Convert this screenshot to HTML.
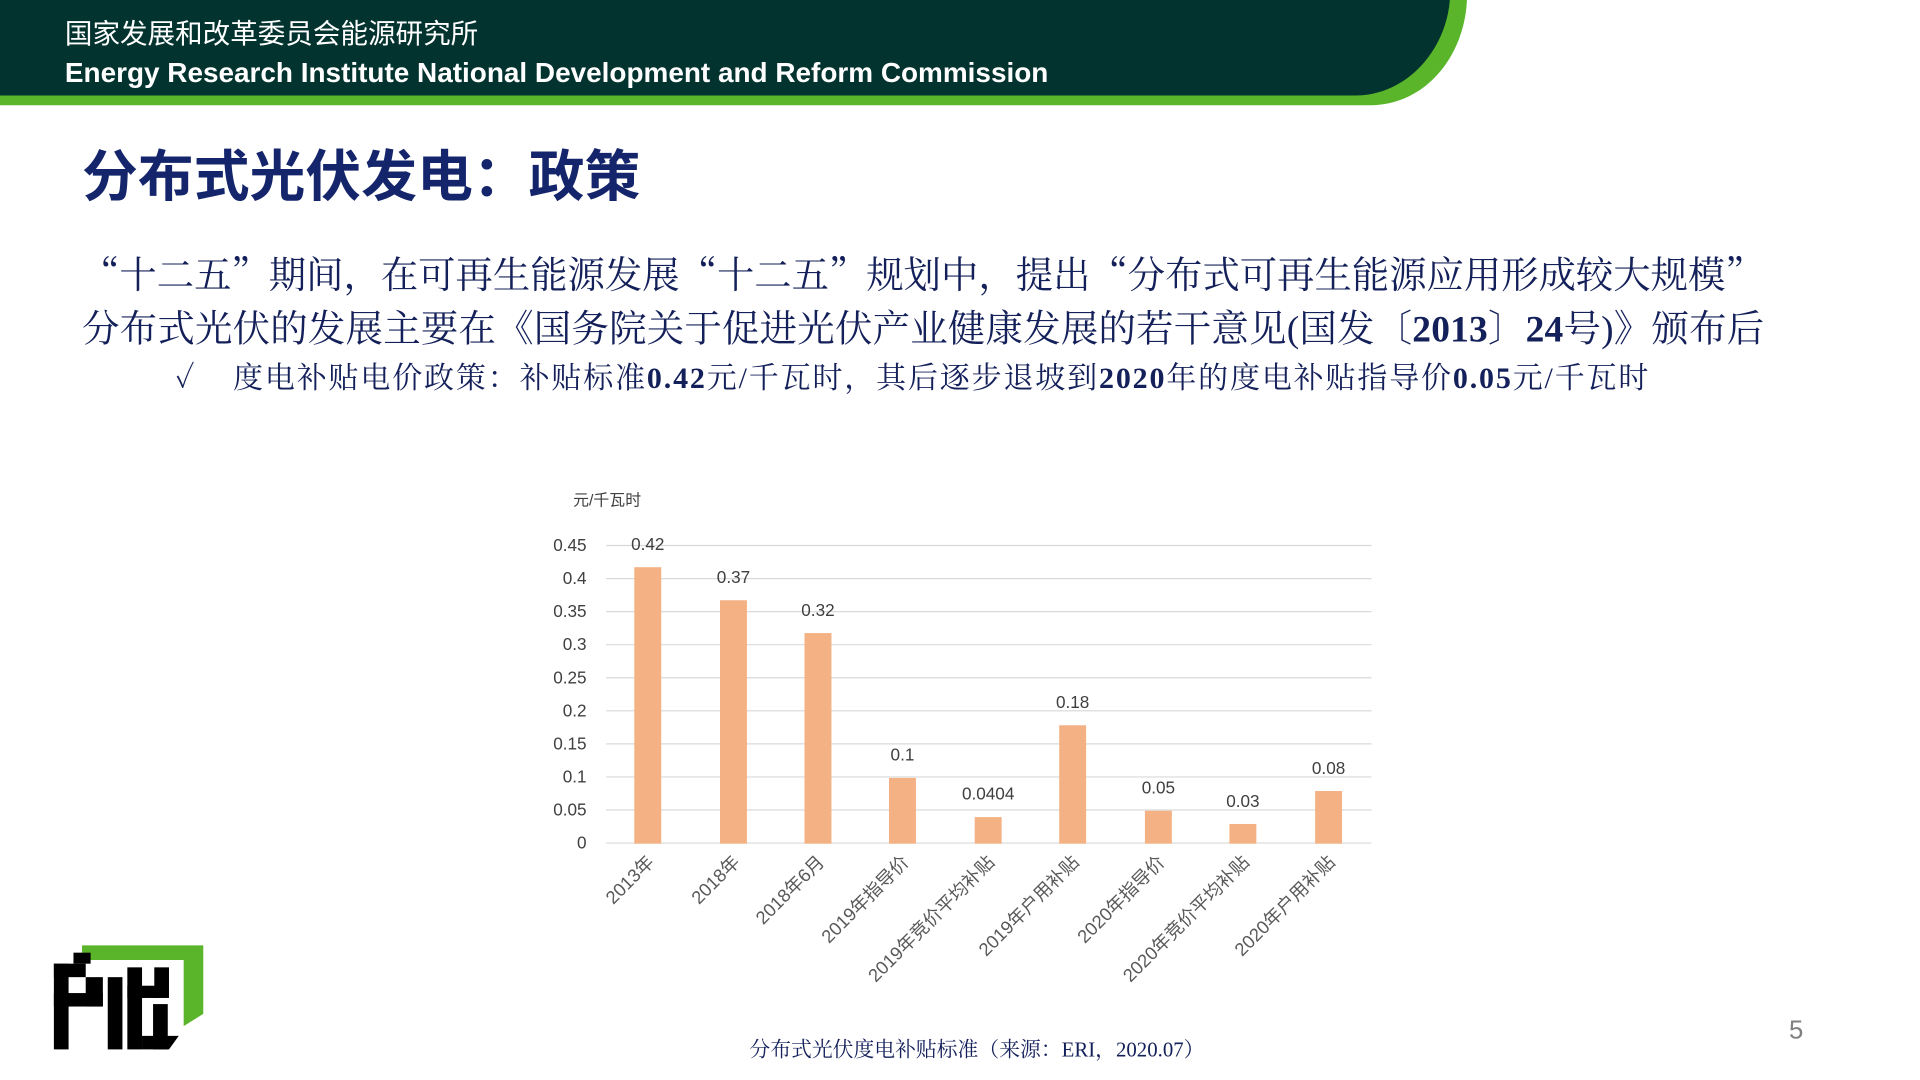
<!DOCTYPE html>
<html><head><meta charset="utf-8"><style>
html,body{margin:0;padding:0;background:#fff;overflow:hidden}
#w{width:1920px;height:1080px;position:relative;overflow:hidden}
#s{position:absolute;left:0;top:0;width:1568px;height:883px;transform:scale(1.2245);transform-origin:0 0}
.t{position:absolute;white-space:nowrap}
.serif{font-family:"Liberation Serif","Noto Serif CJK SC",serif}
.sans{font-family:"Liberation Sans","Noto Sans CJK SC",sans-serif}
.q{font-family:"Noto Serif CJK SC",serif}
</style></head><body><div id="w"><div id="s">
<svg width="1568" height="883" style="position:absolute;left:0;top:0">
<path d="M0,0 H1198 C1196,45 1165,86 1118,86 L0,86 Z" fill="#5ab52a"/>
<path d="M0,0 H1184 C1181,40 1150,77 1108,78 L0,78 Z" fill="#02332f"/>
<polygon points="67,772 166,772 166,828 150,838 150,784 67,784" fill="#5ab52a"/>
<g fill="#000">
<rect x="44" y="787" width="12" height="70"/>
<rect x="44" y="787" width="26" height="11"/>
<rect x="44" y="811" width="40" height="11"/>
<rect x="70" y="798" width="14" height="24"/>
<rect x="60" y="778" width="14" height="9"/>
<rect x="88" y="798" width="12" height="59"/>
<rect x="104" y="790" width="12" height="67"/>
<rect x="104" y="805" width="26" height="10"/>
<rect x="126" y="790" width="12" height="25"/>
<rect x="125" y="820" width="12" height="37"/>
<polygon points="116,846 146,846 138,857 116,857"/>
</g>
<g stroke="#d9d9d9" stroke-width="1">
<line x1="495" x2="1120" y1="445.5" y2="445.5"/><line x1="495" x2="1120" y1="472.5" y2="472.5"/>
<line x1="495" x2="1120" y1="499.5" y2="499.5"/><line x1="495" x2="1120" y1="526.5" y2="526.5"/>
<line x1="495" x2="1120" y1="553.5" y2="553.5"/><line x1="495" x2="1120" y1="580.5" y2="580.5"/>
<line x1="495" x2="1120" y1="607.5" y2="607.5"/><line x1="495" x2="1120" y1="634.5" y2="634.5"/>
<line x1="495" x2="1120" y1="661.5" y2="661.5"/><line x1="495" x2="1120" y1="688.5" y2="688.5"/>
</g>
<g font-family="Liberation Sans,sans-serif" font-size="14" fill="#404040" text-anchor="end">
<text x="479" y="450">0.45</text><text x="479" y="477">0.4</text><text x="479" y="504">0.35</text>
<text x="479" y="531">0.3</text><text x="479" y="558">0.25</text><text x="479" y="585">0.2</text>
<text x="479" y="612">0.15</text><text x="479" y="639">0.1</text><text x="479" y="666">0.05</text>
<text x="479" y="693">0</text>
</g>
<text x="468" y="413" font-family="Liberation Sans,Noto Sans CJK SC,sans-serif" font-size="13" fill="#404040">元/千瓦时</text>
<g fill="#f4b183">
<rect x="518" y="463.2" width="22" height="225.8"/>
<rect x="588" y="490.2" width="22" height="198.8"/>
<rect x="657" y="517" width="22" height="172"/>
<rect x="726" y="635.3" width="22" height="53.7"/>
<rect x="796" y="667.3" width="22" height="21.7"/>
<rect x="865" y="592.3" width="22" height="96.7"/>
<rect x="935" y="662.1" width="22" height="26.9"/>
<rect x="1004" y="672.9" width="22" height="16.1"/>
<rect x="1074" y="646" width="22" height="43"/>
</g>
<g font-family="Liberation Sans,sans-serif" font-size="14" fill="#404040" text-anchor="middle">
<text x="529" y="449">0.42</text><text x="599" y="476">0.37</text><text x="668" y="503">0.32</text>
<text x="737" y="621">0.1</text><text x="807" y="653">0.0404</text><text x="876" y="578">0.18</text>
<text x="946" y="648">0.05</text><text x="1015" y="659">0.03</text><text x="1085" y="632">0.08</text>
</g>
<g font-family="Liberation Sans,Noto Sans CJK SC,sans-serif" font-size="15" fill="#595959" text-anchor="end">
<text transform="translate(535,705) rotate(-45)">2013年</text>
<text transform="translate(605,705) rotate(-45)">2018年</text>
<text transform="translate(674,705) rotate(-45)">2018年6月</text>
<text transform="translate(743,705) rotate(-45)">2019年指导价</text>
<text transform="translate(813,705) rotate(-45)">2019年竞价平均补贴</text>
<text transform="translate(882,705) rotate(-45)">2019年户用补贴</text>
<text transform="translate(952,705) rotate(-45)">2020年指导价</text>
<text transform="translate(1021,705) rotate(-45)">2020年竞价平均补贴</text>
<text transform="translate(1091,705) rotate(-45)">2020年户用补贴</text>
</g>
</svg>
<div class="t sans" style="left:53px;top:14px;font-size:22.5px;color:#fff;line-height:28px">国家发展和改革委员会能源研究所</div>
<div class="t sans" style="left:53px;top:45px;font-size:22.8px;font-weight:bold;color:#fff;line-height:28px">Energy Research Institute National Development and Reform Commission</div>
<div class="t sans" style="left:67px;top:117px;font-size:45.6px;font-weight:bold;color:#14256b;line-height:56px">分布式光伏发电：政策</div>
<div class="t serif" style="left:67px;top:202px;font-size:30.5px;color:#14205a;line-height:40px"><span class="q">“</span>十二五<span class="q">”</span>期间，在可再生能源发展<span class="q">“</span>十二五<span class="q">”</span>规划中，提出<span class="q">“</span>分布式可再生能源应用形成较大规模<span class="q">”</span></div>
<div class="t serif" style="left:67px;top:249px;font-size:30.6px;color:#14205a;line-height:40px;letter-spacing:0.15px">分布式光伏的发展主要在《国务院关于促进光伏产业健康发展的若干意见(国发〔<b>2013</b>〕<b>24</b>号)》颁布后</div>
<div class="t serif" style="left:143px;top:294px;font-size:24.5px;color:#14205a;line-height:32px;letter-spacing:1.5px">✓<span style="display:inline-block;width:30px"></span>度电补贴电价政策：补贴标准<b>0.42</b>元/千瓦时，其后逐步退坡到<b>2020</b>年的度电补贴指导价<b>0.05</b>元/千瓦时</div>
<div class="t serif" style="left:612px;top:847px;font-size:17px;color:#14205a;line-height:22px">分布式光伏度电补贴标准（来源：ERI，2020.07）</div>
<div class="t sans" style="left:1461px;top:829px;font-size:21px;color:#7f7f7f;line-height:26px">5</div>
</div></div></body></html>
